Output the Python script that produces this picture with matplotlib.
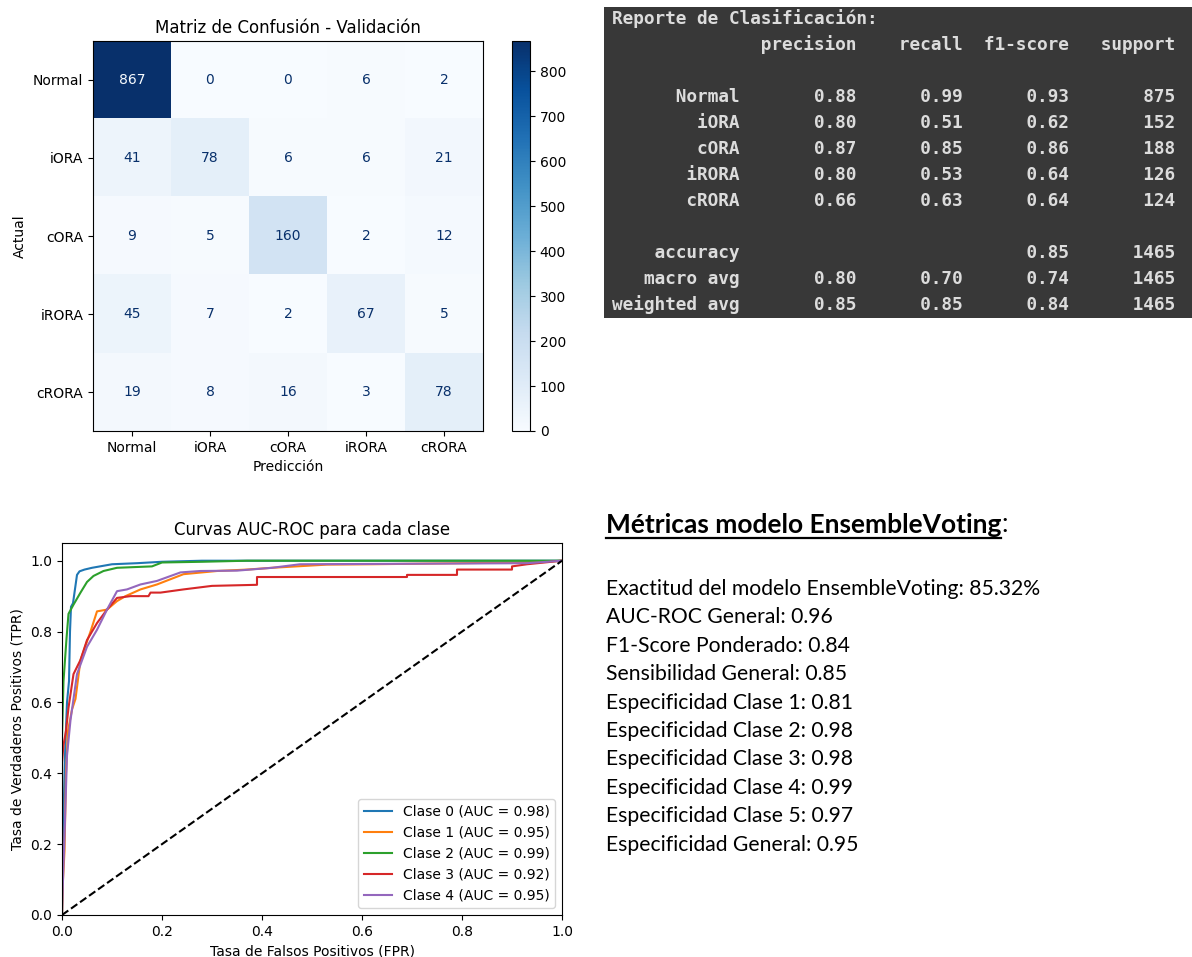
import numpy as np
import matplotlib
matplotlib.use('Agg')
import matplotlib.pyplot as plt
from matplotlib.patches import Rectangle
from matplotlib.lines import Line2D

# Datos del modelo EnsembleVoting (validación)
clases = ["Normal", "iORA", "cORA", "iRORA", "cRORA"]
matriz_confusion = [
    [867, 0, 0, 6, 2],
    [41, 78, 6, 6, 21],
    [9, 5, 160, 2, 12],
    [45, 7, 2, 67, 5],
    [19, 8, 16, 3, 78],
]

precision = [0.88, 0.80, 0.87, 0.80, 0.66]
recall = [0.99, 0.51, 0.85, 0.53, 0.63]
f1 = [0.93, 0.62, 0.86, 0.64, 0.64]
support = [875, 152, 188, 126, 124]
accuracy = 0.85
macro_avg = [0.80, 0.70, 0.74]
weighted_avg = [0.85, 0.85, 0.84]
total = 1465

# Curvas ROC (one-vs-rest) por clase
auc_clases = [0.98, 0.95, 0.99, 0.92, 0.95]
fpr_0 = [0.0, 0.002, 0.006, 0.010, 0.014, 0.016, 0.018, 0.022, 0.026, 0.030, 0.035, 0.045, 0.06, 0.08, 0.10, 0.15, 0.20, 0.28, 1.0]
tpr_0 = [0.0, 0.22, 0.45, 0.60, 0.66, 0.80, 0.87, 0.88, 0.92, 0.96, 0.97, 0.975, 0.98, 0.985, 0.99, 0.993, 0.997, 1.0, 1.0]
fpr_1 = [0.0, 0.002, 0.005, 0.008, 0.012, 0.02, 0.027, 0.037, 0.047, 0.057, 0.07, 0.09, 0.11, 0.127, 0.157, 0.19, 0.243, 0.31, 0.37, 0.42, 0.53, 0.62, 0.80, 0.93, 1.0]
tpr_1 = [0.0, 0.10, 0.18, 0.40, 0.52, 0.58, 0.61, 0.72, 0.76, 0.80, 0.857, 0.862, 0.886, 0.90, 0.919, 0.933, 0.962, 0.971, 0.975, 0.98, 0.989, 0.99, 0.993, 0.995, 1.0]
fpr_2 = [0.0, 0.0, 0.003, 0.009, 0.013, 0.023, 0.037, 0.05, 0.063, 0.083, 0.11, 0.18, 0.20, 0.28, 0.37, 1.0]
tpr_2 = [0.0, 0.50, 0.66, 0.78, 0.85, 0.876, 0.91, 0.94, 0.957, 0.971, 0.98, 0.984, 0.995, 0.997, 1.0, 1.0]
fpr_3 = [0.0, 0.0, 0.003, 0.008, 0.013, 0.023, 0.037, 0.05, 0.07, 0.09, 0.11, 0.137, 0.173, 0.177, 0.197, 0.243, 0.30, 0.39, 0.39, 0.69, 0.69, 0.79, 0.79, 0.90, 0.90, 0.93, 1.0]
tpr_3 = [0.0, 0.43, 0.48, 0.52, 0.585, 0.68, 0.72, 0.776, 0.824, 0.862, 0.895, 0.90, 0.90, 0.91, 0.91, 0.919, 0.929, 0.932, 0.954, 0.954, 0.96, 0.96, 0.975, 0.975, 0.984, 0.99, 1.0]
fpr_4 = [0.0, 0.002, 0.005, 0.01, 0.017, 0.03, 0.05, 0.07, 0.09, 0.11, 0.13, 0.157, 0.19, 0.237, 0.277, 0.35, 0.42, 0.476, 0.93, 1.0]
tpr_4 = [0.0, 0.10, 0.22, 0.45, 0.55, 0.68, 0.757, 0.805, 0.862, 0.914, 0.919, 0.933, 0.943, 0.967, 0.971, 0.972, 0.98, 0.99, 0.993, 1.0]

# Resumen de métricas
metricas_nombres = [
    "Exactitud del modelo EnsembleVoting",
    "AUC-ROC General",
    "F1-Score Ponderado",
    "Sensibilidad General",
    "Especificidad Clase 1",
    "Especificidad Clase 2",
    "Especificidad Clase 3",
    "Especificidad Clase 4",
    "Especificidad Clase 5",
    "Especificidad General",
]
metricas_valores = ["85.32%", "0.96", "0.84", "0.85", "0.81", "0.98", "0.98", "0.99", "0.97", "0.95"]

W, H = 1192, 957
fig = plt.figure(figsize=(W / 100, H / 100), dpi=100)
fig.patch.set_facecolor('white')


def caja(x0, y0, x1, y1):
    """pixeles (origen arriba-izquierda) -> rect de figura"""
    return [x0 / W, 1 - y1 / H, (x1 - x0) / W, (y1 - y0) / H]


# === Matriz de confusión ===
cm = np.array(matriz_confusion)
ax_cm = fig.add_axes(caja(93, 41, 483, 431))
im = ax_cm.imshow(cm, cmap='Blues', vmin=0, vmax=cm.max(), aspect='auto')
cmap = plt.get_cmap('Blues')
umbral = (cm.max() + cm.min()) / 2
for i in range(cm.shape[0]):
    for j in range(cm.shape[1]):
        color = cmap(0.0) if cm[i, j] > umbral else cmap(1.0)
        ax_cm.text(j, i, str(cm[i, j]), ha='center', va='center', color=color, fontsize=10)
ax_cm.set_xticks(range(len(clases)))
ax_cm.set_yticks(range(len(clases)))
ax_cm.set_xticklabels(clases, fontsize=10)
ax_cm.set_yticklabels(clases, fontsize=10)
ax_cm.set_xlabel("Predicción", fontsize=10)
ax_cm.set_ylabel("Actual", fontsize=10)
ax_cm.set_title("Matriz de Confusión - Validación", fontsize=12)

ax_cb = fig.add_axes(caja(512, 41, 530, 431))
cb = fig.colorbar(im, cax=ax_cb)
cb.set_ticks(range(0, 900, 100))
cb.ax.tick_params(labelsize=10)

# === Reporte de clasificación (salida de consola) ===
fig.patches.append(Rectangle((604 / W, 1 - 318 / H), (W - 604) / W, (318 - 7) / H,
                             transform=fig.transFigure, facecolor='#383838',
                             edgecolor='none', zorder=0))
fmt_num = " {:>9.2f}" * 3
lineas = ["Reporte de Clasificación:"]
lineas.append("{:>12s} ".format("") + (" {:>9}" * 4).format("precision", "recall", "f1-score", "support"))
lineas.append("")
for nombre, p, r, f, s in zip(clases, precision, recall, f1, support):
    lineas.append("{:>12s} ".format(nombre) + fmt_num.format(p, r, f) + " {:>9}".format(s))
lineas.append("")
lineas.append("{:>12s} ".format("accuracy") + " {:>9}".format("") * 2
              + " {:>9.2f}".format(accuracy) + " {:>9}".format(total))
lineas.append("{:>12s} ".format("macro avg") + fmt_num.format(*macro_avg) + " {:>9}".format(total))
lineas.append("{:>12s} ".format("weighted avg") + fmt_num.format(*weighted_avg) + " {:>9}".format(total))
for k, linea in enumerate(lineas):
    fig.text(612 / W, 1 - (19 + 26 * k) / H, linea, family='DejaVu Sans Mono',
             fontweight='bold', fontsize=12.8, color='#dcdcdc', va='center', ha='left')

# === Curvas ROC ===
ax_roc = fig.add_axes(caja(62, 543, 562, 915))
curvas = [(fpr_0, tpr_0), (fpr_1, tpr_1), (fpr_2, tpr_2), (fpr_3, tpr_3), (fpr_4, tpr_4)]
for i, (fpr, tpr) in enumerate(curvas):
    ax_roc.plot(fpr, tpr, color=f"C{i}", linewidth=1.5,
                label=f"Clase {i} (AUC = {auc_clases[i]:.2f})")
ax_roc.plot([0, 1], [0, 1], 'k--', linewidth=1.5)
ax_roc.set_xlim(0.0, 1.0)
ax_roc.set_ylim(0.0, 1.05)
ax_roc.set_xlabel("Tasa de Falsos Positivos (FPR)", fontsize=10)
ax_roc.set_ylabel("Tasa de Verdaderos Positivos (TPR)", fontsize=10)
ax_roc.set_title("Curvas AUC-ROC para cada clase", fontsize=12)
ax_roc.tick_params(labelsize=10)
ax_roc.legend(loc='lower right', fontsize=10)

# === Texto de métricas ===
titulo = fig.text(606 / W, 1 - 525 / H, "Métricas modelo EnsembleVoting", family='Lato',
                  fontweight='bold', fontsize=19, va='center', ha='left')
fig.canvas.draw()
bb = titulo.get_window_extent()
fig.text(bb.x1 / W, 1 - 525 / H, ":", family='Lato', fontsize=19, va='center', ha='left')
y_sub = (bb.y0 - 1) / H
fig.add_artist(Line2D([bb.x0 / W, bb.x1 / W], [y_sub, y_sub], transform=fig.transFigure,
                      color='black', linewidth=1.6))

for k, (nombre, valor) in enumerate(zip(metricas_nombres, metricas_valores)):
    fig.text(606 / W, 1 - (589 + 28.4 * k) / H, f"{nombre}: {valor}", family='Lato',
             fontsize=15.2, va='center', ha='left')

fig.savefig("out.png", dpi=100, facecolor='white')
plt.close(fig)
